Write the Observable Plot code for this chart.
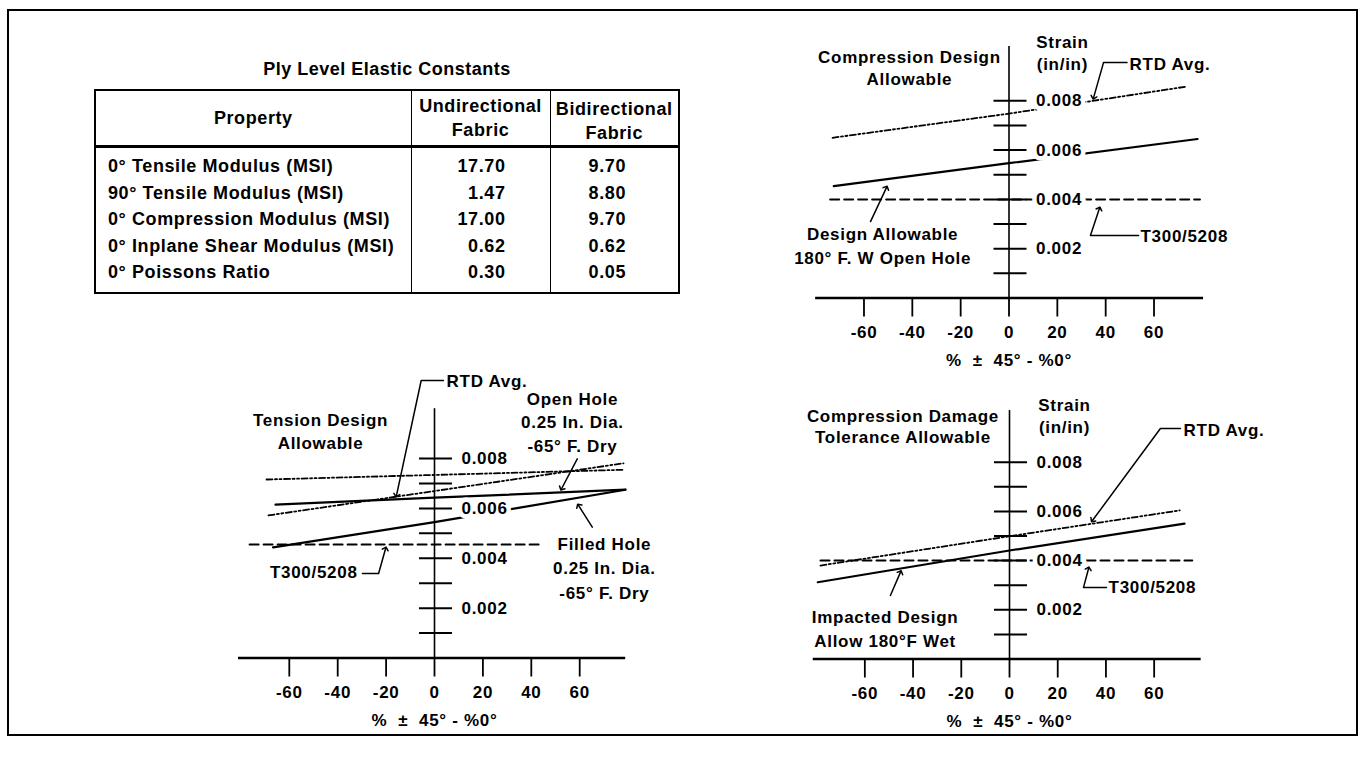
<!DOCTYPE html>
<html>
<head>
<meta charset="utf-8">
<script src="https://cdn.jsdelivr.net/npm/d3@7"></script>
<script src="https://cdn.jsdelivr.net/npm/@observablehq/plot@0.6"></script>
<style>
  html, body { margin: 0; padding: 0; background: #fff; }
  #page { position: relative; width: 1365px; height: 758px; overflow: hidden; background: #fff;
          font-family: "Liberation Sans", Arial, Helvetica, sans-serif; color: #000; }
  #frame { position: absolute; left: 7px; top: 9px; width: 1351px; height: 727px; border: 2px solid #000; box-sizing: border-box; }
  .chart { position: absolute; }
  .chart svg text { letter-spacing: 0.7px; }
  #tableTitle { position: absolute; left: 94px; width: 586px; top: 59px; text-align: center;
                font-size: 18px; font-weight: bold; letter-spacing: 0.5px; }
  #plyTable { position: absolute; left: 94px; top: 89px; width: 586px; border-collapse: collapse;
              font-size: 18px; font-weight: bold; letter-spacing: 0.6px; }
  #plyTable, #plyTable th, #plyTable td { border-color: #000; }
  #plyTable { border: 2px solid #000; }
  #plyTable th { font-weight: bold; height: 47px; padding: 0; line-height: 24px; border-bottom: 3px solid #000; white-space: pre-line; }
  #plyTable td { height: 26.5px; padding: 0; line-height: 26.5px; white-space: nowrap; }
  #plyTable th + th, #plyTable td + td { border-left: 1.5px solid #000; }
  #plyTable td:first-child { padding-left: 12px; text-align: left; }
  #plyTable td.uni { text-align: right; padding-right: 44px; }
  #plyTable td.bi { text-align: right; padding-right: 52px; }
  #plyTable tr.first td { padding-top: 5px; }
  #plyTable tr.last td { padding-bottom: 6px; }
</style>
</head>
<body>
<div id="page">
  <div id="frame"></div>
  <div id="tableTitle"></div>
  <table id="plyTable"></table>
  <div id="chartComp" class="chart"></div>
  <div id="chartTens" class="chart"></div>
  <div id="chartDamage" class="chart"></div>
</div>
<script>
// ======================= DATA =======================
// Table: Ply Level Elastic Constants
const tableTitle = "Ply Level Elastic Constants";
const tableHeaders = ["Property", "Undirectional\nFabric", "Bidirectional\nFabric"];
const properties = [
  "0° Tensile Modulus (MSI)",
  "90° Tensile Modulus (MSI)",
  "0° Compression Modulus (MSI)",
  "0° Inplane Shear Modulus (MSI)",
  "0° Poissons Ratio"
];
const unidirectionalFabric = ["17.70", "1.47", "17.00", "0.62", "0.30"];
const bidirectionalFabric = ["9.70", "8.80", "9.70", "0.62", "0.05"];

// Shared axes
const xTicks = [-60, -40, -20, 0, 20, 40, 60];
const strainTicks = [0.001, 0.002, 0.003, 0.004, 0.005, 0.006, 0.007, 0.008];
const strainTickLabels = [0.002, 0.004, 0.006, 0.008];
const xAxisTitle = "%  ±  45° - %0°";

// Chart 1: Compression Design Allowable (x = % ±45° - %0°, y = strain in/in)
const compRtdAvg = [[-73, 0.0065], [0, 0.00748], [73, 0.00857]];
const compDesignAllowable = [[-72.5, 0.00454], [0, 0.00547], [78, 0.00645]];
const compT300 = [[-74, 0.004], [79, 0.004]];
const compLabels = [
  {text: "Compression Design\nAllowable", x: -41.2, y: 0.00939, anchor: "middle", lh: 1.3},
  {text: "Strain\n(in/in)", x: 22.1, y: 0.00998, anchor: "middle", lh: 1.3},
  {text: "RTD Avg.", x: 49.9, y: 0.00947, anchor: "start", lh: 1},
  {text: "Design Allowable\n180° F. W Open Hole", x: -52.3, y: 0.00217, anchor: "middle", lh: 1.41},
  {text: "T300/5208", x: 54.4, y: 0.00249, anchor: "start", lh: 1}
];
const compLeaders = [
  [[49.1, 0.00955], [39.1, 0.00955], [35.0, 0.00813]],
  [[-57.3, 0.0031], [-50.7, 0.00448]],
  [[53.6, 0.00254], [33.7, 0.00254], [37.4, 0.00363]]
];

// Chart 2: Tension Design Allowable
const tensRtdAvgA = [[-69.4, 0.00716], [78.1, 0.00755]];
const tensRtdAvgB = [[-68.6, 0.00572], [78.1, 0.00781]];
const tensOpenHole = [[-65.7, 0.00615], [0, 0.00643], [78.9, 0.00675]];
const tensFilledHole = [[-66.7, 0.00444], [0, 0.00545], [78.9, 0.00675]];
const tensT300 = [[-76.4, 0.00455], [44.6, 0.00455]];
const tensLabels = [
  {text: "Tension Design\nAllowable", x: -47.1, y: 0.00914, anchor: "middle", lh: 1.38},
  {text: "RTD Avg.", x: 5.0, y: 0.01109, anchor: "start", lh: 1},
  {text: "Open Hole\n0.25 In. Dia.\n-65° F. Dry", x: 57.0, y: 0.00952, anchor: "middle", lh: 1.38},
  {text: "Filled Hole\n0.25 In. Dia.\n-65° F. Dry", x: 70.2, y: 0.00366, anchor: "middle", lh: 1.42},
  {text: "T300/5208", x: -31.8, y: 0.00341, anchor: "end", lh: 1}
];
const tensLeaders = [
  [[3.7, 0.01113], [-5.5, 0.01113], [-15.7, 0.00652]],
  [[59.0, 0.00799], [52.5, 0.00679]],
  [[65.2, 0.00525], [59.5, 0.00612]],
  [[-29.8, 0.00339], [-23.1, 0.00339], [-20.2, 0.00439]]
];

// Chart 3: Compression Damage Tolerance Allowable
const dmgRtdAvg = [[-78.4, 0.0038], [0, 0.00499], [70.6, 0.00604]];
const dmgImpacted = [[-79.5, 0.00312], [0, 0.00441], [72.6, 0.0055]];
const dmgT300 = [[-78.4, 0.004], [75.8, 0.004]];
const dmgLabels = [
  {text: "Compression Damage\nTolerance Allowable", x: -44.2, y: 0.00947, anchor: "middle", lh: 1.24},
  {text: "Strain\n(in/in)", x: 22.8, y: 0.00992, anchor: "middle", lh: 1.3},
  {text: "RTD Avg.", x: 72.2, y: 0.00929, anchor: "start", lh: 1},
  {text: "T300/5208", x: 41.1, y: 0.00289, anchor: "start", lh: 1},
  {text: "Impacted Design\nAllow 180°F Wet", x: -51.6, y: 0.00129, anchor: "middle", lh: 1.44}
];
const dmgLeaders = [
  [[70.9, 0.00937], [62.6, 0.00937], [34.4, 0.00563]],
  [[40.2, 0.00291], [30.7, 0.00291], [32.8, 0.00368]],
  [[-49.4, 0.00258], [-45.2, 0.00353]]
];

// ======================= TABLE =======================
document.getElementById("tableTitle").textContent = tableTitle;
(function buildTable() {
  const t = document.getElementById("plyTable");
  const colWidths = [317, 140, 129];
  const hr = document.createElement("tr");
  tableHeaders.forEach((h, i) => {
    const th = document.createElement("th");
    th.textContent = h;
    th.style.width = colWidths[i] + "px";
    if (i === 2) th.style.paddingTop = "6px";
    hr.appendChild(th);
  });
  t.appendChild(hr);
  properties.forEach((p, i) => {
    const tr = document.createElement("tr");
    if (i === 0) tr.className = "first";
    if (i === properties.length - 1) tr.className = "last";
    [[p, ""], [unidirectionalFabric[i], "uni"], [bidirectionalFabric[i], "bi"]].forEach(([v, c]) => {
      const td = document.createElement("td");
      td.textContent = v;
      if (c) td.className = c;
      tr.appendChild(td);
    });
    t.appendChild(tr);
  });
})();

// ======================= CHARTS =======================
const FONT = '"Liberation Sans", Arial, Helvetica, sans-serif';
const solid = {stroke: "black", strokeWidth: 2.2};
const dashDot = {stroke: "black", strokeWidth: 1.8, strokeDasharray: "6,2.5,2,2.5,2,2.5"};
const dashed = {stroke: "black", strokeWidth: 2, strokeDasharray: "9,5"};
const xy = {x: d => d[0], y: d => d[1]};

function drawChart(id, cfg) {
  const [bl, bt, bw, bh] = cfg.box;
  const xL = cfg.x0 + cfg.xDomain[0] * cfg.kx;
  const xR = cfg.x0 + cfg.xDomain[1] * cfg.kx;
  const yT = cfg.y0 - cfg.yMax * 1000 * cfg.ky;
  const txt = {fontSize: 17, fontWeight: "bold", fill: "black"};
  const marks = [
    ...cfg.series.map(s => Plot.line(s.data, {...xy, ...s.style})),
    Plot.ruleY(strainTicks, {y: d => d, x1: () => 0, x2: () => 0, insetLeft: -15, insetRight: -18, strokeWidth: 2}),
    Plot.ruleX([0], {strokeWidth: 1.6}),
    Plot.ruleY([0], {strokeWidth: 2.4}),
    Plot.axisX(xTicks, {tickSize: 19, tickPadding: 9, tickFormat: d => String(d), fontSize: 17, fontWeight: "bold", strokeWidth: 1.8, label: null}),
    Plot.text(strainTickLabels, {x: () => 0, y: d => d, text: d => d.toFixed(3), dx: 27, textAnchor: "start",
      ...txt, stroke: "white", strokeWidth: 9, paintOrder: "stroke"}),
    Plot.text([xAxisTitle], {x: () => 0, y: () => 0, dy: 62.5, text: d => d, textAnchor: "middle", ...txt}),
    ...cfg.leaders.map(pts => Plot.line(pts, {...xy, stroke: "black", strokeWidth: 1.5, markerEnd: "arrow"})),
    ...cfg.labels.map(l => Plot.text([l], {x: "x", y: "y", text: "text", textAnchor: l.anchor, lineHeight: l.lh,
      ...txt, stroke: "white", strokeWidth: 6, paintOrder: "stroke"}))
  ];
  const chart = Plot.plot({
    width: bw, height: bh,
    marginLeft: xL - bl, marginRight: bl + bw - xR,
    marginTop: yT - bt, marginBottom: bt + bh - cfg.y0,
    x: {domain: cfg.xDomain, axis: null},
    y: {domain: [0, cfg.yMax], axis: null},
    style: {background: "transparent", fontFamily: FONT, overflow: "visible"},
    marks
  });
  const el = document.getElementById(id);
  el.style.left = bl + "px";
  el.style.top = bt + "px";
  el.appendChild(chart);
}

drawChart("chartComp", {
  box: [700, 15, 660, 365], x0: 1008.5, kx: 2.417, xDomain: [-80, 80.5], y0: 297.5, ky: 24.65, yMax: 0.0102,
  series: [
    {data: compRtdAvg, style: dashDot},
    {data: compDesignAllowable, style: solid},
    {data: compT300, style: dashed}
  ],
  labels: compLabels, leaders: compLeaders
});

drawChart("chartTens", {
  box: [180, 350, 520, 395], x0: 434, kx: 2.42, xDomain: [-81, 79], y0: 657.5, ky: 24.93, yMax: 0.0100,
  series: [
    {data: tensRtdAvgA, style: dashDot},
    {data: tensRtdAvgB, style: dashDot},
    {data: tensOpenHole, style: solid},
    {data: tensFilledHole, style: solid},
    {data: tensT300, style: dashed}
  ],
  labels: tensLabels, leaders: tensLeaders
});

drawChart("chartDamage", {
  box: [760, 380, 600, 365], x0: 1009, kx: 2.411, xDomain: [-81.4, 79.5], y0: 658.5, ky: 24.6, yMax: 0.0101,
  series: [
    {data: dmgRtdAvg, style: dashDot},
    {data: dmgImpacted, style: solid},
    {data: dmgT300, style: dashed}
  ],
  labels: dmgLabels, leaders: dmgLeaders
});
</script>
</body>
</html>
